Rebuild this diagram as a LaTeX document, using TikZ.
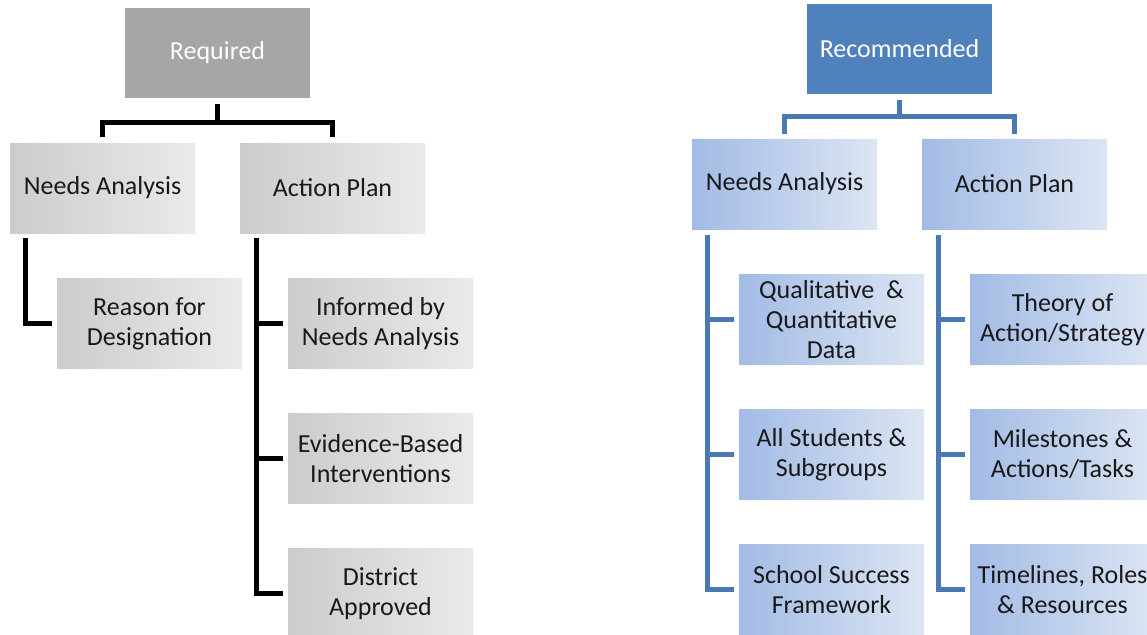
\documentclass[tikz,border=0pt]{standalone}
\usepackage{fontspec}
\setmainfont{Carlito}
\usepackage{xcolor}
\definecolor{recblue}{HTML}{4F81BD}
\definecolor{linkblue}{HTML}{4A78B2}
\definecolor{reqgray}{HTML}{A6A6A6}
\definecolor{grayleft}{HTML}{CCCCCC}
\definecolor{grayright}{HTML}{EAEAEA}
\definecolor{blueleft}{HTML}{A2BBE5}
\definecolor{blueright}{HTML}{DCE5F3}

\begin{document}
\begin{tikzpicture}[x = 1pt, y = -1pt,
  box/.style = {minimum width = 185pt, minimum height = 90pt, inner sep = 0pt,
    align = center, font = \fontsize{26}{30}\selectfont, text = black!90},
  topbox/.style = {box, text = white},
  graybox/.style = {box, left color = grayleft, right color = grayright},
  bluebox/.style = {box, left color = blueleft, right color = blueright},
  blackline/.style = {draw = black, line width = 5pt},
  blueline/.style = {draw = linkblue, line width = 5pt}]

\path [use as bounding box] (0, 0) rectangle (1147, 634);
\clip (0, 0) rectangle (1147, 634);

% required
\node [topbox, fill = reqgray] (req) at (217.5, 53) {Required};

\node [graybox] (naL) at (102.5, 188) {Needs Analysis};
\node [graybox] (apL) at (332.5, 188) {Action Plan};

\path [blackline] ([yshift = -6pt]req.south) -- ++(0, 18) -| ([yshift = 6pt]naL.north);
\path [blackline] ([yshift = -6pt]req.south) -- ++(0, 18) -| ([yshift = 6pt]apL.north);

\node [graybox] (reason) at (149.5, 323.5) {Reason for\\Designation};
\path [blackline] ([xshift = 16pt, yshift = -5pt]naL.south west) |- ([xshift = -5pt]reason.west);

\node [graybox] (informed) at (380.5, 323.5) {Informed by\\Needs Analysis};
\node [graybox] (evidence) at (380.5, 458.5) {Evidence-Based\\ Interventions};
\node [graybox] (district) at (380.5, 593.5) {District\\Approved};

\coordinate (apLtrunk) at ([xshift = 17pt, yshift = -5pt]apL.south west);
\path [blackline] (apLtrunk) |- ([xshift = -5pt]district.west);
\path [blackline] (apLtrunk |- informed.west) -- ([xshift = -5pt]informed.west);
\path [blackline] (apLtrunk |- evidence.west) -- ([xshift = -5pt]evidence.west);

% recommended
\node [topbox, fill = recblue] (rec) at (899.5, 49) {Recommended};

\node [bluebox] (naR) at (784.5, 184) {Needs Analysis};
\node [bluebox] (apR) at (1014.5, 184) {Action Plan};

\path [blueline] ([yshift = -6pt]rec.south) -- ++(0, 16) -| ([yshift = 5pt]naR.north);
\path [blueline] ([yshift = -6pt]rec.south) -- ++(0, 16) -| ([yshift = 5pt]apR.north);

\node [bluebox] (qual) at (831.5, 319.5) {Qualitative ~\&\\Quantitative\\Data};
\node [bluebox] (students) at (831.5, 454.5) {All Students \&\\Subgroups};
\node [bluebox] (school) at (831.5, 589.5) {School Success\\Framework};

\coordinate (naRtrunk) at ([xshift = 16pt, yshift = -6pt]naR.south west);
\path [blueline] (naRtrunk) |- ([xshift = -5pt]school.west);
\path [blueline] (naRtrunk |- qual.west) -- ([xshift = -5pt]qual.west);
\path [blueline] (naRtrunk |- students.west) -- ([xshift = -5pt]students.west);

\node [bluebox] (theory) at (1062.5, 319.5) {Theory of\\Action/Strategy};
\node [bluebox] (milestones) at (1062.5, 454.5) {Milestones \&\\Actions/Tasks};
\node [bluebox] (timelines) at (1062.5, 589.5) {Timelines, Roles\\\& Resources};

\coordinate (apRtrunk) at ([xshift = 17pt, yshift = -6pt]apR.south west);
\path [blueline] (apRtrunk) |- ([xshift = -5pt]timelines.west);
\path [blueline] (apRtrunk |- theory.west) -- ([xshift = -5pt]theory.west);
\path [blueline] (apRtrunk |- milestones.west) -- ([xshift = -5pt]milestones.west);

\end{tikzpicture}
\end{document}
